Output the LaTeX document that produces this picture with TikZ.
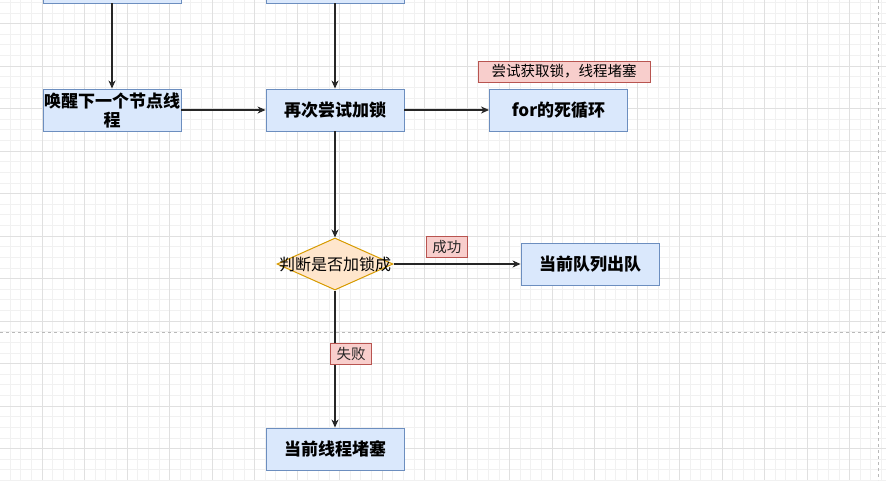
\documentclass[tikz,border=0pt]{standalone}
\usepackage{fontspec}
\newfontfamily\cjk{Noto Sans CJK SC}
\usepackage{xcolor}
\usetikzlibrary{shapes.geometric, arrows.meta, positioning}

\definecolor{boxfill}{HTML}{DAE8FC}
\definecolor{boxline}{HTML}{6C8EBF}
\definecolor{decfill}{HTML}{FFE6CC}
\definecolor{decline}{HTML}{D79B00}
\definecolor{lblfill}{HTML}{F8CECC}
\definecolor{lblline}{HTML}{B85450}

\begin{document}
\begin{tikzpicture}[
    x=1pt, y=-1pt,
    stepbox/.style={draw=boxline, fill=boxfill, line width=0.9pt, minimum width=138pt, minimum height=42pt, inner sep=0pt, align=center, font=\cjk\bfseries\fontsize{17}{19}\selectfont},
    decision/.style={diamond, draw=decline, fill=decfill, line width=1pt, minimum width=116pt, minimum height=52pt, inner sep=0pt, font=\cjk\fontsize{16}{18}\selectfont},
    lbl/.style={draw=lblline, fill=lblfill, line width=0.9pt, inner xsep=6pt, inner ysep=0pt, minimum height=21pt, font=\cjk\fontsize{14.5}{16}\selectfont},
    arrow/.style={-{Stealth[length=8pt, width=7pt, inset=2.5pt]}, line width=1.2pt, black!85},
    minorgrid/.style={gray!11, line width=0.6pt},
    majorgrid/.style={gray!24, line width=0.7pt},
    pagebreak/.style={gray!55, dashed, line width=0.7pt}
]
\useasboundingbox (0,0) rectangle (886,480);
\clip (0,0) rectangle (886,480);
\fill[white] (0,0) rectangle (886,480);

% background grid
\foreach \i in {0,...,83}
    \draw[minorgrid] ({\i*10.625-0.5},0) -- ++(0,480);
\foreach \j in {0,...,45}
    \draw[minorgrid] (0,{\j*10.625+2.25}) -- ++(886,0);
\foreach \i in {0,...,20}
    \draw[majorgrid] ({\i*42.5-0.5},0) -- ++(0,480);
\foreach \j in {0,...,10}
    \draw[majorgrid] (0,{\j*42.5+23.5}) -- ++(886,0);
\draw[pagebreak] (0,332) -- (886,332);
\draw[pagebreak] (878,0) -- (878,480);

% steps
\node[stepbox] (prevleft) at (112,-18) {};
\node[stepbox] (prevmid) at (335,-18) {};
\node[stepbox] (wake) at (112,110) {唤醒下一个节点线\\程};
\node[stepbox] (retry) at (335,110) {再次尝试加锁};
\node[stepbox] (loop) at (558.5,110) {for的死循环};
\node[decision] (decide) at (335,264) {\makebox[0pt]{判断是否加锁成}};
\node[stepbox] (dequeue) at (590,264) {当前队列出队};
\node[stepbox] (block) at (335,449) {当前线程堵塞};

\node[lbl, minimum width=172pt, above=6pt of loop, xshift=5.5pt] (loopnote) {尝试获取锁，线程堵塞};

% flow
\draw[arrow] (prevleft) -- (wake);
\draw[arrow] (prevmid) -- (retry);
\draw[arrow] (wake) -- (retry);
\draw[arrow] (retry) -- (loop);
\draw[arrow] (retry) -- (decide);
\draw[arrow] (decide) -- node[lbl, pos=0.42, yshift=17pt] (ok) {成功} (dequeue);
\draw[arrow] (decide) -- node[lbl, pos=0.464, xshift=16pt] (fail) {失败} (block);

\end{tikzpicture}
\end{document}
